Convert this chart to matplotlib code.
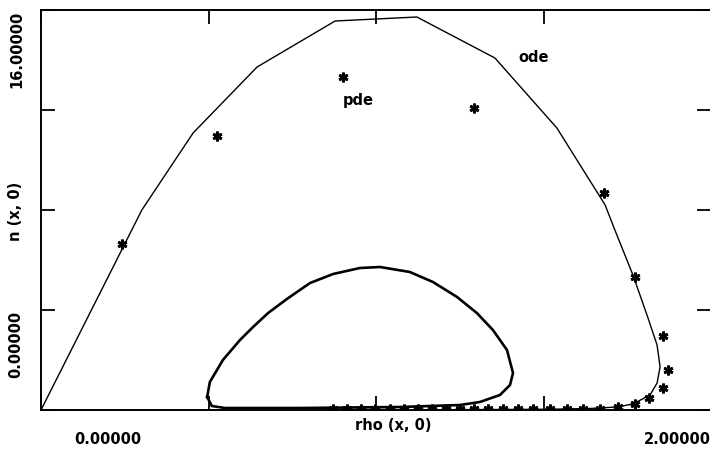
import matplotlib
matplotlib.use("Agg")
import matplotlib.pyplot as plt

# ode trajectory (thin outer curve)
ode_rho = [0.0, 0.301, 0.454, 0.645, 0.878, 1.122, 1.355, 1.540, 1.684, 1.713,
           1.767, 1.812, 1.839, 1.848, 1.839, 1.818, 1.767, 1.719, 1.639, 1.519,
           1.221, 0.863]
ode_n = [0.0, 8.0, 11.08, 13.72, 15.56, 15.72, 14.08, 11.28, 8.2, 7.2,
         5.4, 3.68, 2.6, 1.72, 1.08, 0.6, 0.24, 0.12, 0.06, 0.03,
         0.012, 0.0]

# inner closed loop (thick curve)
loop_rho = [0.496, 0.504, 0.543, 0.594, 0.633, 0.678, 0.734, 0.803, 0.872, 0.952,
            1.012, 1.101, 1.170, 1.242, 1.301, 1.349, 1.391, 1.409, 1.400, 1.370,
            1.310, 1.251, 1.072, 0.773, 0.549, 0.510, 0.496]
loop_n = [0.52, 1.12, 2.0, 2.8, 3.32, 3.88, 4.44, 5.08, 5.44, 5.68,
          5.72, 5.52, 5.12, 4.52, 3.88, 3.2, 2.4, 1.48, 1.0, 0.6,
          0.32, 0.2, 0.12, 0.08, 0.08, 0.16, 0.52]

# pde solution samples
pde_rho = [0.242, 0.525, 0.901, 1.293, 1.681, 1.773, 1.857, 1.872, 1.857, 1.815,
           1.773, 1.722, 1.669, 1.618, 1.570, 1.519, 1.469, 1.424, 1.379, 1.334,
           1.293, 1.251, 1.209, 1.167, 1.125, 1.084, 1.042, 0.997, 0.955, 0.913,
           0.872]
pde_n = [6.64, 10.96, 13.32, 12.08, 8.68, 5.32, 2.96, 1.6, 0.88, 0.48,
         0.24, 0.12, 0.05, 0.05, 0.05, 0.05, 0.05, 0.05, 0.05, 0.05,
         0.05, 0.05, 0.05, 0.05, 0.05, 0.05, 0.05, 0.05, 0.05, 0.05,
         0.05]

x_ticks = [0.0, 0.5, 1.0, 1.5, 2.0]
y_ticks = [0.0, 4.0, 8.0, 12.0, 16.0]

W, H = 710, 453
fig = plt.figure(figsize=(W / 100, H / 100), dpi=100)
ax = fig.add_axes([41 / W, (H - 410) / H, 670 / W, 400 / H])

ax.plot(ode_rho, ode_n, color="black", lw=1.0)
ax.plot(loop_rho, loop_n, color="black", lw=1.9)
ax.plot(pde_rho, pde_n, linestyle="none", marker=(6, 2, 0), markersize=7,
        markeredgewidth=2.0, color="black")

ax.set_xlim(0, 2)
ax.set_ylim(0, 16)
ax.set_xticks(x_ticks)
ax.set_yticks(y_ticks)
ax.tick_params(direction="in", length=10, width=1.3, top=True, right=True,
               labelbottom=False, labelleft=False)
for s in ax.spines.values():
    s.set_linewidth(1.4)

font = dict(family="DejaVu Sans", fontweight="bold", fontsize=10.5, color="black")

ax.text(1.47, 14.1, "ode", ha="center", va="center", **font)
ax.text(0.946, 12.4, "pde", ha="center", va="center", **font)

# axis annotations, placed in figure pixels
def ftext(x, y, s, **kw):
    fig.text(x / W, 1 - y / H, s, ha="center", va="center", **font, **kw)

ftext(393, 426, "rho (x, 0)")
ftext(108, 440, "0.00000")
ftext(677, 440, "2.00000")
ftext(17, 49, "16.00000", rotation=90)
ftext(15, 211, "n (x, 0)", rotation=90)
ftext(16, 344, "0.00000", rotation=90)

fig.savefig("out.png", dpi=100)
